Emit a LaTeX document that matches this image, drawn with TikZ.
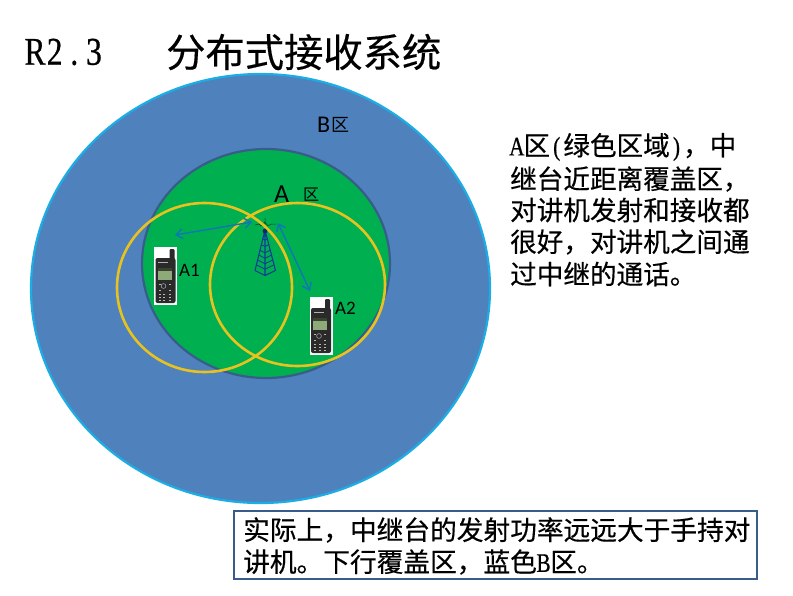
\documentclass[tikz,border=0pt]{standalone}
\usepackage{fontspec}
\usetikzlibrary{arrows.meta,calc}
\setmainfont[FakeBold=0.35]{Noto Sans CJK SC}
\newfontfamily\plaincjk{Noto Sans CJK SC}
\newfontfamily\hwfont[FakeStretch=0.8,FakeBold=0.6]{Liberation Serif}
\newfontfamily\lblfont{Carlito}
\definecolor{zoneblue}{HTML}{4F81BD}
\definecolor{zonegreen}{HTML}{00B050}
\definecolor{zoneedge}{HTML}{1CADE4}
\definecolor{greenedge}{HTML}{385D8A}
\definecolor{ringyellow}{HTML}{E8C21E}
\definecolor{linkblue}{HTML}{0F77B8}
\definecolor{towerblue}{HTML}{0F3C96}
\definecolor{phonebody}{HTML}{2A2A2A}
\definecolor{phonescreen}{HTML}{8DAA78}
\newcommand{\fs}[1]{\fontsize{#1}{#1}\selectfont}
\newcommand{\hw}[2]{\makebox[#1pt][c]{\hwfont #2}}
\tikzset{
  x=1pt,y=-1pt,
  link/.style={draw=linkblue,line width=1.4pt,{Straight Barb[length=6.5pt,width=10pt]}-{Straight Barb[length=6.5pt,width=10pt]}},
  ring/.style={draw=ringyellow,line width=2.6pt},
  txt/.style={anchor=west,inner sep=0pt,text=black},
  phone/.pic={
    \fill[white] (0,0) rectangle (23,58);
    \fill[phonebody,rounded corners=1pt] (15.5,2) rectangle (20.5,14);
    \fill[phonebody,rounded corners=2pt] (1.5,11) rectangle (21.5,56);
    \fill[phonescreen] (3.5,21) rectangle (17.5,33);
    \fill[black!60!phonescreen] (3.5,21) rectangle (17.5,24);
    \fill[gray!60] (4,15) rectangle (14,16);
    \draw[gray!60,line width=0.5pt] (9.5,39) circle (2.4);
    \foreach \r in {37,43,46.5,50,53}{
      \foreach \c in {4.5,14.5}{\fill[gray!55] (\c,\r) rectangle +(2.2,0.8);}
    }
    \foreach \r in {46.5,50,53}{\fill[gray!55] (9,\r) rectangle +(2.2,0.8);}
  }
}
\begin{document}
\begin{tikzpicture}
\useasboundingbox (0,0) rectangle (793,595);
\fill[white] (0,0) rectangle (793,595);
% title
\node[txt] (title) at (25,52) {\fs{39.3}\hw{19.65}{R}\hw{19.65}{2}\hw{19.65}{.}\hw{19.65}{3}};
\node[txt] (titlecn) at (166,52) {\fs{39.3}分布式接收系统};
% zones
\draw[fill=zoneblue,draw=zoneedge,line width=2.2pt] (260.5,288.5) ellipse [x radius=229.5,y radius=214.5];
\draw[fill=zonegreen,draw=greenedge,line width=2.2pt] (266,263.5) ellipse [x radius=124,y radius=114.5];
% zone labels
\node[txt] (lblB) at (317,125) {{\lblfont\fs{24}B}};
\node[txt] (lblBq) at (331,125) {\plaincjk\fs{18}区};
\node[txt] (lblA) at (274,194) {{\lblfont\fs{26}A}};
\node[txt] (lblAq) at (303,195) {\plaincjk\fs{16}区};
% tower
\coordinate (apex) at (265,230);
\coordinate (bl) at (255,270.5);
\coordinate (bm) at (265,275.5);
\coordinate (br) at (275.5,270.5);
\draw[towerblue,line width=1.1pt] (apex)--(bl) (apex)--(bm) (apex)--(br) (bl)--(bm)--(br);
\foreach \t in {0.22,0.36,0.5,0.62,0.74,0.86}{
  \draw[towerblue,line width=0.9pt] ($(apex)!\t!(bl)$)--($(apex)!\t!(bm)$)--($(apex)!\t!(br)$);
}
\fill[towerblue!70!black] (265,231) circle (2.4);
\draw[black!60!zonegreen,line width=0.5pt] (265,218)--(265,230) (255,225)--(259,224)--(261,226)--(265,222)--(268,226)--(271,224)--(276,224);
% rings
\draw[ring] (204.5,287.5) ellipse [x radius=87.5,y radius=84.5];
\draw[ring] (297.5,284.5) ellipse [x radius=87.5,y radius=81.5];
% phones
\pic at (154,247) {phone};
\pic at (309.5,297) {phone};
\node[txt] (lblA1) at (179,270) {{\lblfont\fs{19}A1}};
\node[txt] (lblA2) at (335,308) {{\lblfont\fs{19}A2}};
% links
\coordinate (l1a) at (175,235);
\coordinate (l1b) at (252,222);
\coordinate (l2a) at (278,223);
\coordinate (l2b) at (310,291);
\draw[link] (l1a)--(l1b);
\draw[link] (l2a)--(l2b);
% right text
\node[txt] (d1) at (510,147) {\fs{26.6}\hw{13.3}{A}区\hw{13.3}{(}绿色区域\hw{13.3}{)}，中};
\node[txt] (d2) at (510,179) {\fs{26.6}继台近距离覆盖区，};
\node[txt] (d3) at (510,210) {\fs{26.6}对讲机发射和接收都};
\node[txt] (d4) at (510,242) {\fs{26.6}很好，对讲机之间通};
\node[txt] (d5) at (510,274) {\fs{26.6}过中继的通话。};
% box
\node[draw=greenedge,line width=2.2pt,fill=white,minimum width=523,minimum height=68,anchor=north west,inner sep=0pt] (box) at (233,510) {};
\node[txt] (b1) at (243,530) {\fs{26.7}实际上，中继台的发射功率远远大于手持对};
\node[txt] (b2) at (243,562) {\fs{26.7}讲机。下行覆盖区，蓝色\hw{13.35}{B}区。};
\end{tikzpicture}
\end{document}
